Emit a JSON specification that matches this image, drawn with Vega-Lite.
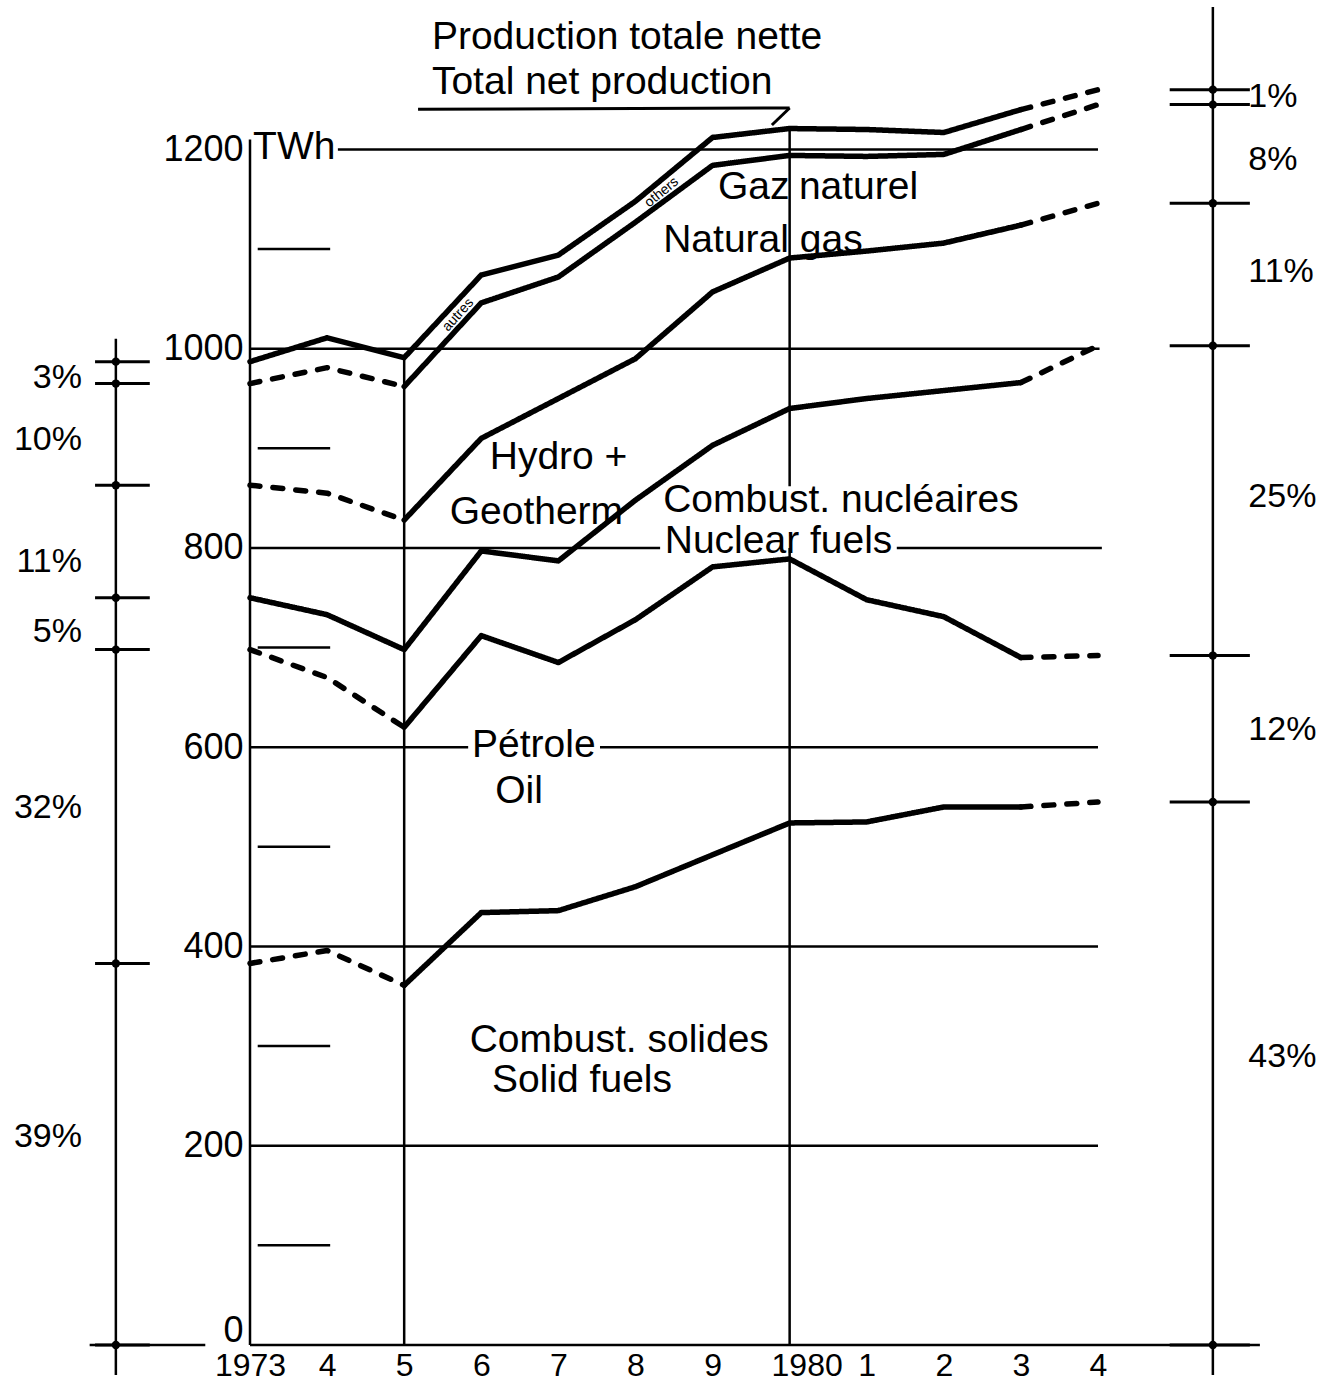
{
  "$schema": "https://vega.github.io/schema/vega-lite/v6.json",
  "width": 848,
  "height": 1345,
  "autosize": {"type": "none"},
  "padding": {"left": 250, "top": 0, "right": 236, "bottom": 41},
  "background": "white",
  "config": {"view": {"stroke": null}, "font": "Liberation Sans", "text": {"font": "Liberation Sans", "color": "black"}},
  "resolve": {"axis": {"x": "independent", "y": "independent"}},
  "datasets": {
    "lines": [
      {"s": "Combustibles solides", "seg": "a", "style": "dashed", "year": 1973, "v": 383},
      {"s": "Combustibles solides", "seg": "a", "style": "dashed", "year": 1974, "v": 396},
      {"s": "Combustibles solides", "seg": "a", "style": "dashed", "year": 1975, "v": 361},
      {"s": "Combustibles solides", "seg": "b", "style": "solid", "year": 1975, "v": 361},
      {"s": "Combustibles solides", "seg": "b", "style": "solid", "year": 1976, "v": 434},
      {"s": "Combustibles solides", "seg": "b", "style": "solid", "year": 1977, "v": 436},
      {"s": "Combustibles solides", "seg": "b", "style": "solid", "year": 1978, "v": 460},
      {"s": "Combustibles solides", "seg": "b", "style": "solid", "year": 1979, "v": 492},
      {"s": "Combustibles solides", "seg": "b", "style": "solid", "year": 1980, "v": 524},
      {"s": "Combustibles solides", "seg": "b", "style": "solid", "year": 1981, "v": 525},
      {"s": "Combustibles solides", "seg": "b", "style": "solid", "year": 1982, "v": 540},
      {"s": "Combustibles solides", "seg": "b", "style": "solid", "year": 1983, "v": 540},
      {"s": "Combustibles solides", "seg": "c", "style": "dashed", "year": 1983, "v": 540},
      {"s": "Combustibles solides", "seg": "c", "style": "dashed", "year": 1984, "v": 545},
      {"s": "Pétrole", "seg": "a", "style": "dashed", "year": 1973, "v": 698},
      {"s": "Pétrole", "seg": "a", "style": "dashed", "year": 1974, "v": 670},
      {"s": "Pétrole", "seg": "a", "style": "dashed", "year": 1975, "v": 620},
      {"s": "Pétrole", "seg": "b", "style": "solid", "year": 1975, "v": 620},
      {"s": "Pétrole", "seg": "b", "style": "solid", "year": 1976, "v": 712},
      {"s": "Pétrole", "seg": "b", "style": "solid", "year": 1977, "v": 685},
      {"s": "Pétrole", "seg": "b", "style": "solid", "year": 1978, "v": 728},
      {"s": "Pétrole", "seg": "b", "style": "solid", "year": 1979, "v": 781},
      {"s": "Pétrole", "seg": "b", "style": "solid", "year": 1980, "v": 789},
      {"s": "Pétrole", "seg": "b", "style": "solid", "year": 1981, "v": 748},
      {"s": "Pétrole", "seg": "b", "style": "solid", "year": 1982, "v": 731},
      {"s": "Pétrole", "seg": "b", "style": "solid", "year": 1983, "v": 690},
      {"s": "Pétrole", "seg": "c", "style": "dashed", "year": 1983, "v": 690},
      {"s": "Pétrole", "seg": "c", "style": "dashed", "year": 1984, "v": 692},
      {"s": "Nucléaire", "seg": "b", "style": "solid", "year": 1973, "v": 750},
      {"s": "Nucléaire", "seg": "b", "style": "solid", "year": 1974, "v": 733},
      {"s": "Nucléaire", "seg": "b", "style": "solid", "year": 1975, "v": 698},
      {"s": "Nucléaire", "seg": "b", "style": "solid", "year": 1976, "v": 797},
      {"s": "Nucléaire", "seg": "b", "style": "solid", "year": 1977, "v": 787},
      {"s": "Nucléaire", "seg": "b", "style": "solid", "year": 1978, "v": 848},
      {"s": "Nucléaire", "seg": "b", "style": "solid", "year": 1979, "v": 903},
      {"s": "Nucléaire", "seg": "b", "style": "solid", "year": 1980, "v": 940},
      {"s": "Nucléaire", "seg": "b", "style": "solid", "year": 1981, "v": 950},
      {"s": "Nucléaire", "seg": "b", "style": "solid", "year": 1982, "v": 958},
      {"s": "Nucléaire", "seg": "b", "style": "solid", "year": 1983, "v": 966},
      {"s": "Nucléaire", "seg": "c", "style": "dashed", "year": 1983, "v": 966},
      {"s": "Nucléaire", "seg": "c", "style": "dashed", "year": 1984, "v": 1003},
      {"s": "Hydro + géotherm", "seg": "a", "style": "dashed", "year": 1973, "v": 863},
      {"s": "Hydro + géotherm", "seg": "a", "style": "dashed", "year": 1974, "v": 855},
      {"s": "Hydro + géotherm", "seg": "a", "style": "dashed", "year": 1975, "v": 828},
      {"s": "Hydro + géotherm", "seg": "b", "style": "solid", "year": 1975, "v": 828},
      {"s": "Hydro + géotherm", "seg": "b", "style": "solid", "year": 1976, "v": 910},
      {"s": "Hydro + géotherm", "seg": "b", "style": "solid", "year": 1977, "v": 950},
      {"s": "Hydro + géotherm", "seg": "b", "style": "solid", "year": 1978, "v": 990},
      {"s": "Hydro + géotherm", "seg": "b", "style": "solid", "year": 1979, "v": 1057},
      {"s": "Hydro + géotherm", "seg": "b", "style": "solid", "year": 1980, "v": 1091},
      {"s": "Hydro + géotherm", "seg": "b", "style": "solid", "year": 1981, "v": 1098},
      {"s": "Hydro + géotherm", "seg": "b", "style": "solid", "year": 1982, "v": 1106},
      {"s": "Hydro + géotherm", "seg": "b", "style": "solid", "year": 1983, "v": 1124},
      {"s": "Hydro + géotherm", "seg": "c", "style": "dashed", "year": 1983, "v": 1124},
      {"s": "Hydro + géotherm", "seg": "c", "style": "dashed", "year": 1984, "v": 1146},
      {"s": "Gaz naturel", "seg": "a", "style": "dashed", "year": 1973, "v": 965},
      {"s": "Gaz naturel", "seg": "a", "style": "dashed", "year": 1974, "v": 981},
      {"s": "Gaz naturel", "seg": "a", "style": "dashed", "year": 1975, "v": 962},
      {"s": "Gaz naturel", "seg": "b", "style": "solid", "year": 1975, "v": 962},
      {"s": "Gaz naturel", "seg": "b", "style": "solid", "year": 1976, "v": 1046},
      {"s": "Gaz naturel", "seg": "b", "style": "solid", "year": 1977, "v": 1072},
      {"s": "Gaz naturel", "seg": "b", "style": "solid", "year": 1978, "v": 1127},
      {"s": "Gaz naturel", "seg": "b", "style": "solid", "year": 1979, "v": 1184},
      {"s": "Gaz naturel", "seg": "b", "style": "solid", "year": 1980, "v": 1194},
      {"s": "Gaz naturel", "seg": "b", "style": "solid", "year": 1981, "v": 1193},
      {"s": "Gaz naturel", "seg": "b", "style": "solid", "year": 1982, "v": 1195},
      {"s": "Gaz naturel", "seg": "b", "style": "solid", "year": 1983, "v": 1220},
      {"s": "Gaz naturel", "seg": "c", "style": "dashed", "year": 1983, "v": 1220},
      {"s": "Gaz naturel", "seg": "c", "style": "dashed", "year": 1984, "v": 1245},
      {"s": "Total", "seg": "b", "style": "solid", "year": 1973, "v": 987},
      {"s": "Total", "seg": "b", "style": "solid", "year": 1974, "v": 1011},
      {"s": "Total", "seg": "b", "style": "solid", "year": 1975, "v": 991},
      {"s": "Total", "seg": "b", "style": "solid", "year": 1976, "v": 1074},
      {"s": "Total", "seg": "b", "style": "solid", "year": 1977, "v": 1094},
      {"s": "Total", "seg": "b", "style": "solid", "year": 1978, "v": 1148},
      {"s": "Total", "seg": "b", "style": "solid", "year": 1979, "v": 1212},
      {"s": "Total", "seg": "b", "style": "solid", "year": 1980, "v": 1221},
      {"s": "Total", "seg": "b", "style": "solid", "year": 1981, "v": 1220},
      {"s": "Total", "seg": "b", "style": "solid", "year": 1982, "v": 1217},
      {"s": "Total", "seg": "b", "style": "solid", "year": 1983, "v": 1240},
      {"s": "Total", "seg": "c", "style": "dashed", "year": 1983, "v": 1240},
      {"s": "Total", "seg": "c", "style": "dashed", "year": 1984, "v": 1260}
    ],
    "hgrid": [
      {"v": 1200, "x1": 1974.14, "x2": 1984},
      {"v": 1000, "x1": 1973, "x2": 1984.02},
      {"v": 800, "x1": 1973, "x2": 1978.32},
      {"v": 800, "x1": 1981.39, "x2": 1984.05},
      {"v": 600, "x1": 1973, "x2": 1975.83},
      {"v": 600, "x1": 1977.54, "x2": 1984},
      {"v": 400, "x1": 1973, "x2": 1984},
      {"v": 200, "x1": 1973, "x2": 1984},
      {"v": 1100, "x1": 1973.1, "x2": 1974.04},
      {"v": 900, "x1": 1973.1, "x2": 1974.04},
      {"v": 700, "x1": 1973.1, "x2": 1974.04},
      {"v": 500, "x1": 1973.1, "x2": 1974.04},
      {"v": 300, "x1": 1973.1, "x2": 1974.04},
      {"v": 100, "x1": 1973.1, "x2": 1974.04},
      {"v": 0, "x1": 1970.92, "x2": 1972.42},
      {"v": 0, "x1": 1973, "x2": 1986.1}
    ],
    "vrules": [
      {"year": 1973, "v1": 1210, "v2": 0},
      {"year": 1975, "v1": 991, "v2": 0},
      {"year": 1980, "v1": 1221, "v2": 862},
      {"year": 1980, "v1": 800, "v2": 0},
      {"year": 1971.26, "v1": 1010, "v2": -30},
      {"year": 1985.49, "v1": 1343, "v2": -30}
    ],
    "pctTicks": [
      {"year": 1971.26, "x1": 1970.99, "x2": 1971.7, "v": 987},
      {"year": 1971.26, "x1": 1970.99, "x2": 1971.7, "v": 965},
      {"year": 1971.26, "x1": 1970.99, "x2": 1971.7, "v": 863},
      {"year": 1971.26, "x1": 1970.99, "x2": 1971.7, "v": 750},
      {"year": 1971.26, "x1": 1970.99, "x2": 1971.7, "v": 698},
      {"year": 1971.26, "x1": 1970.99, "x2": 1971.7, "v": 383},
      {"year": 1971.26, "x1": 1970.99, "x2": 1971.7, "v": 0},
      {"year": 1985.49, "x1": 1984.93, "x2": 1985.97, "v": 1260},
      {"year": 1985.49, "x1": 1984.93, "x2": 1985.97, "v": 1245},
      {"year": 1985.49, "x1": 1984.93, "x2": 1985.97, "v": 1146},
      {"year": 1985.49, "x1": 1984.93, "x2": 1985.97, "v": 1003},
      {"year": 1985.49, "x1": 1984.93, "x2": 1985.97, "v": 692},
      {"year": 1985.49, "x1": 1984.93, "x2": 1985.97, "v": 545},
      {"year": 1985.49, "x1": 1984.93, "x2": 1985.97, "v": 0}
    ],
    "pointer": [
      {"x1": 1975.18, "y1": 1240.3, "x2": 1980.0, "y2": 1241.6},
      {"x1": 1980.0, "y1": 1241.6, "x2": 1979.77, "y2": 1224.5}
    ],
    "labels": [
      {"text": "Production totale nette", "year": 1975.36, "v": 1312.9},
      {"text": "Total net production", "year": 1975.36, "v": 1267.7},
      {"text": "TWh", "year": 1973.04, "v": 1202.5},
      {"text": "Gaz", "year": 1979.07, "v": 1162.3},
      {"text": "naturel", "year": 1980.12, "v": 1162.3},
      {"text": "Natural gas", "year": 1978.36, "v": 1109.1},
      {"text": "Hydro +", "year": 1976.11, "v": 891.3},
      {"text": "Geotherm", "year": 1975.59, "v": 836.1},
      {"text": "Combust. nucléaires", "year": 1978.36, "v": 848.1},
      {"text": "Nuclear fuels", "year": 1978.38, "v": 807.0},
      {"text": "Pétrole", "year": 1975.88, "v": 602.2},
      {"text": "Oil", "year": 1976.18, "v": 556.1},
      {"text": "Combust. solides", "year": 1975.85, "v": 306.1},
      {"text": "Solid fuels", "year": 1976.14, "v": 266.0}
    ],
    "pctLeft": [
      {"text": "3%", "year": 1970.82, "v": 970.6},
      {"text": "10%", "year": 1970.82, "v": 908.4},
      {"text": "11%", "year": 1970.82, "v": 785.9},
      {"text": "5%", "year": 1970.82, "v": 715.7},
      {"text": "32%", "year": 1970.82, "v": 539.0},
      {"text": "39%", "year": 1970.82, "v": 208.8}
    ],
    "pctRight": [
      {"text": "1%", "year": 1985.95, "v": 1252.6},
      {"text": "8%", "year": 1985.95, "v": 1189.4},
      {"text": "11%", "year": 1985.95, "v": 1077.0},
      {"text": "25%", "year": 1985.95, "v": 851.2},
      {"text": "12%", "year": 1985.95, "v": 617.3},
      {"text": "43%", "year": 1985.95, "v": 289.1}
    ],
    "bandLabels": [
      {"text": "autres", "year": 1975.7, "v": 1034},
      {"text": "others", "year": 1978.34, "v": 1157}
    ]
  },
  "layer": [
    {
      "data": {"name": "hgrid"},
      "mark": {"type": "rule", "color": "black", "strokeWidth": 2.5},
      "encoding": {
        "x": {"field": "x1", "type": "quantitative", "scale": {"domain": [1973, 1984], "nice": false, "zero": false}, "axis": null},
        "x2": {"field": "x2"},
        "y": {"field": "v", "type": "quantitative", "scale": {"domain": [0, 1350], "nice": false, "zero": false}, "axis": null}
      }
    },
    {
      "data": {"name": "vrules"},
      "mark": {"type": "rule", "color": "black", "strokeWidth": 2.5},
      "encoding": {
        "x": {"field": "year", "type": "quantitative", "axis": null},
        "y": {"field": "v1", "type": "quantitative", "axis": null},
        "y2": {"field": "v2"}
      }
    },
    {
      "data": {"name": "pctTicks"},
      "mark": {"type": "rule", "color": "black", "strokeWidth": 3},
      "encoding": {
        "x": {"field": "x1", "type": "quantitative", "axis": null},
        "x2": {"field": "x2"},
        "y": {"field": "v", "type": "quantitative", "axis": null}
      }
    },
    {
      "data": {"name": "pctTicks"},
      "mark": {"type": "point", "filled": true, "color": "black", "size": 70, "opacity": 1},
      "encoding": {
        "x": {"field": "year", "type": "quantitative", "axis": null},
        "y": {"field": "v", "type": "quantitative", "axis": null}
      }
    },
    {
      "data": {"name": "pointer"},
      "mark": {"type": "rule", "color": "black", "strokeWidth": 3},
      "encoding": {
        "x": {"field": "x1", "type": "quantitative", "axis": null},
        "x2": {"field": "x2"},
        "y": {"field": "y1", "type": "quantitative", "axis": null},
        "y2": {"field": "y2"}
      }
    },
    {
      "data": {"name": "lines"},
      "mark": {"type": "line", "color": "black", "strokeWidth": 5.5, "strokeCap": "round", "strokeJoin": "round"},
      "encoding": {
        "x": {
          "field": "year", "type": "quantitative",
          "axis": {
            "values": [1973, 1974, 1975, 1976, 1977, 1978, 1979, 1980, 1981, 1982, 1983, 1984],
            "labelExpr": "datum.value == 1973 || datum.value == 1980 ? '' + datum.value : '' + (datum.value % 10)",
            "labelOffset": {"condition": {"test": "datum.value == 1980", "value": 17}, "value": 0},
            "domain": false, "ticks": false, "tickSize": 0, "grid": false, "title": null,
            "labelFontSize": 32, "labelFont": "Liberation Sans", "labelColor": "black",
            "labelPadding": 5, "labelFlush": false, "labelOverlap": false
          }
        },
        "y": {
          "field": "v", "type": "quantitative",
          "axis": {
            "values": [0, 200, 400, 600, 800, 1000, 1200],
            "format": "d",
            "labelOffset": {"condition": {"test": "datum.value == 0", "value": -15}, "value": 0},
            "domain": false, "ticks": false, "tickSize": 0, "grid": false, "title": null,
            "labelFontSize": 36, "labelFont": "Liberation Sans", "labelColor": "black",
            "labelPadding": 7, "labelFlush": false, "labelOverlap": false
          }
        },
        "detail": [{"field": "s"}, {"field": "seg"}],
        "strokeDash": {
          "field": "style", "type": "nominal",
          "scale": {"domain": ["solid", "dashed"], "range": [[1, 0], [10, 13]]},
          "legend": null
        }
      }
    },
    {
      "data": {"name": "labels"},
      "mark": {"type": "text", "align": "left", "baseline": "middle", "fontSize": 39, "color": "black"},
      "encoding": {
        "x": {"field": "year", "type": "quantitative", "axis": null},
        "y": {"field": "v", "type": "quantitative", "axis": null},
        "text": {"field": "text"}
      }
    },
    {
      "data": {"name": "pctLeft"},
      "mark": {"type": "text", "align": "right", "baseline": "middle", "fontSize": 34, "color": "black"},
      "encoding": {
        "x": {"field": "year", "type": "quantitative", "axis": null},
        "y": {"field": "v", "type": "quantitative", "axis": null},
        "text": {"field": "text"}
      }
    },
    {
      "data": {"name": "pctRight"},
      "mark": {"type": "text", "align": "left", "baseline": "middle", "fontSize": 34, "color": "black"},
      "encoding": {
        "x": {"field": "year", "type": "quantitative", "axis": null},
        "y": {"field": "v", "type": "quantitative", "axis": null},
        "text": {"field": "text"}
      }
    },
    {
      "data": {"name": "bandLabels"},
      "transform": [{"filter": "datum.text == 'autres'"}],
      "mark": {"type": "text", "align": "center", "baseline": "middle", "fontSize": 14, "angle": 312, "color": "black"},
      "encoding": {
        "x": {"field": "year", "type": "quantitative", "axis": null},
        "y": {"field": "v", "type": "quantitative", "axis": null},
        "text": {"field": "text"}
      }
    },
    {
      "data": {"name": "bandLabels"},
      "transform": [{"filter": "datum.text == 'others'"}],
      "mark": {"type": "text", "align": "center", "baseline": "middle", "fontSize": 14, "angle": 321, "color": "black"},
      "encoding": {
        "x": {"field": "year", "type": "quantitative", "axis": null},
        "y": {"field": "v", "type": "quantitative", "axis": null},
        "text": {"field": "text"}
      }
    }
  ]
}
